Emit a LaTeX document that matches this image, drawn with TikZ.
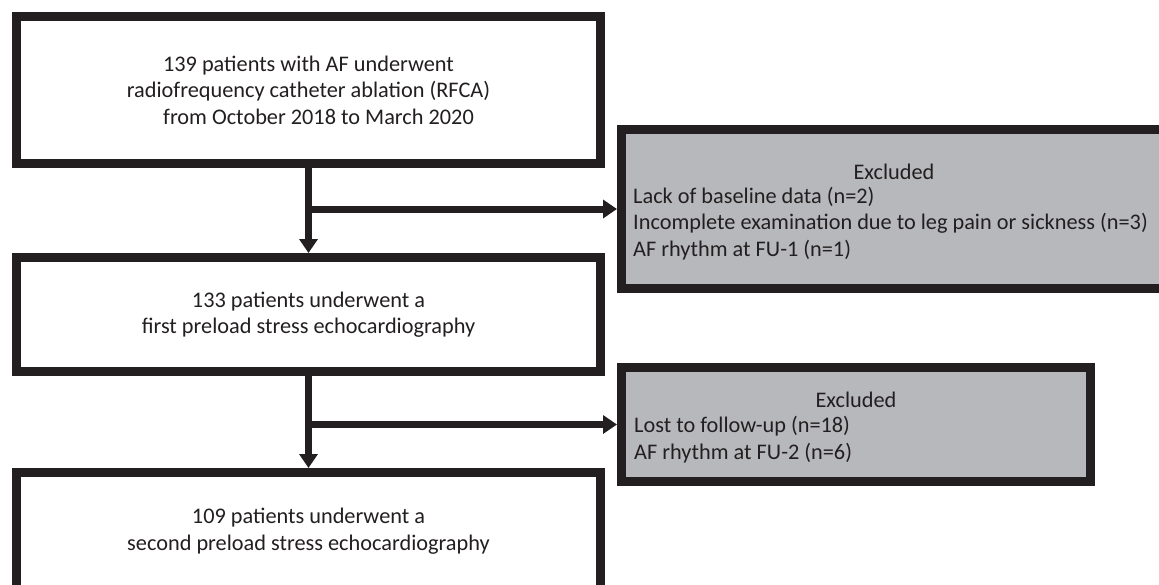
\documentclass[tikz,border=0pt]{standalone}
\usepackage{fontspec}
\setmainfont{Carlito}
\usetikzlibrary{arrows.meta,positioning}
\definecolor{ink}{HTML}{231F20}
\definecolor{shade}{HTML}{B7B8BB}

\begin{document}
\begin{tikzpicture}[
  x=1pt, y=-1pt,
  box/.style={draw=ink, line width=9pt, fill=white, align=center, minimum width=584pt, inner sep=0pt},
  exclbox/.style={draw=ink, line width=9pt, fill=shade, inner sep=0pt},
  arrow/.style={-{Triangle[length=14pt,width=18pt]}, draw=ink, line width=7pt},
  every node/.style={font=\fontsize{22.3}{26.5}\selectfont, text=ink}
]
\useasboundingbox (0,0) rectangle (1159,584);
\clip (0,0) rectangle (1159,584);

\node[box, minimum height=147pt] (ablation) at (308.5,90)
  {139 patients with AF underwent\\ radiofrequency catheter ablation (RFCA)\\ \hspace*{20pt}from October 2018 to March 2020};
\node[box, minimum height=114pt] (first) at (308.5,314.5)
  {133 patients underwent a\\ first preload stress echocardiography};
\node[box, minimum height=117pt] (second) at (308.5,531)
  {109 patients underwent a\\ second preload stress echocardiography};

\node[exclbox, minimum width=545pt, minimum height=159pt] (excl1) at (894,209) {};
\node[exclbox, minimum width=469pt, minimum height=114pt] (excl2) at (856,424.5) {};

% exclusion texts
\node (excl1title) at (894,172) {Excluded};
\node[anchor=west, align=left, inner sep=0pt] (excl1list) at (633,223.5)
  {Lack of baseline data (n=2)\\ Incomplete examination due to leg pain or sickness (n=3)\\ AF rhythm at FU-1 (n=1)};
\node (excl2title) at (856,400) {Excluded};
\node[anchor=west, align=left, inner sep=0pt] (excl2list) at (634,439.5)
  {Lost to follow-up (n=18)\\ AF rhythm at FU-2 (n=6)};

\coordinate (split1) at (308.5,209);
\coordinate (split2) at (308.5,424.5);

\draw[arrow] (ablation) -- (first);
\draw[arrow] (first) -- (second);
\draw[arrow] (split1) -- (excl1);
\draw[arrow] (split2) -- (excl2);

\end{tikzpicture}
\end{document}
